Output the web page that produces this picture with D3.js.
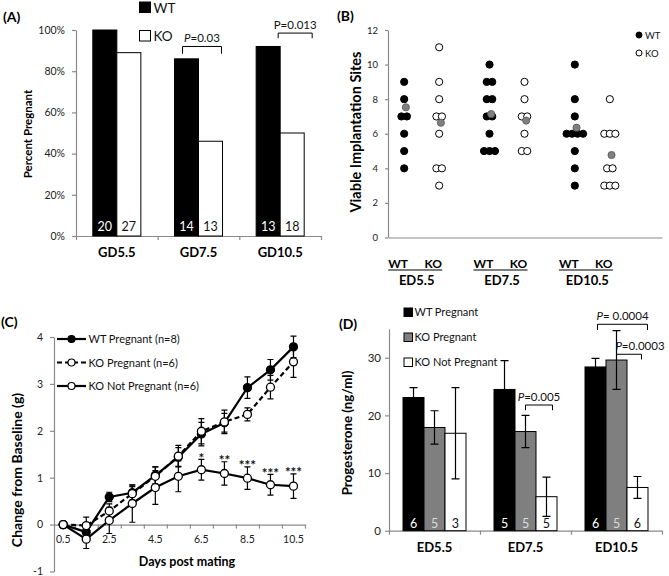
<!DOCTYPE html>
<html><head><meta charset="utf-8">
<script src="https://cdn.jsdelivr.net/npm/d3@7"></script>
<style>
body{margin:0;background:#fff}
svg{display:block}
text{font-family:Lato,'Open Sans',sans-serif}
</style>
</head><body>
<svg id="fig" width="669" height="576"></svg>
<script>
// ---------- Panel A data ----------
const aCats = ['GD5.5','GD7.5','GD10.5'];
const aWT = [1.00, 0.86, 0.92];
const aKO = [0.89, 0.46, 0.50];
const aNwt = [20, 14, 13];
const aNko = [27, 13, 18];
const aTicks = [0, 0.2, 0.4, 0.6, 0.8, 1.0];
const aPvals = [{cat:'GD7.5', label:'P=0.03', italic:true, level:0.92, drop:0.035},
                {cat:'GD10.5', label:'P=0.013', italic:false, level:0.985, drop:0.025}];

// ---------- Panel B data ----------
const bCats = ['ED5.5','ED7.5','ED10.5'];
const bWT = [[9,8,7,7,6,5,4],[10,9,9,8,8,7,7,6,5,5,5],[10,8,7,6,6,6,6,5,4,3]];
const bKO = [[11,9,8,7,7,6,4,4,3],[9,8,7,7,6,5,5],[8,6,6,6,4,4,3,3,3]];
const bMeanWT = [7.53, 7.14, 6.35];
const bMeanKO = [6.64, 6.76, 4.77];
const bTicks = [0,2,4,6,8,10,12];

// ---------- Panel C data ----------
const cDays = [0.5,1.5,2.5,3.5,4.5,5.5,6.5,7.5,8.5,9.5,10.5];
const cWT    = [0,-0.16,0.59,0.68,1.05,1.44,1.93,2.17,2.92,3.30,3.79];
const cWTerr = [0, 0.10,0.10,0.16,0.18,0.20,0.25,0.20,0.23,0.22,0.23];
const cKO    = [0,-0.02,0.29,0.66,1.03,1.46,1.99,2.19,2.35,2.93,3.47];
const cKOerr = [0, 0.18,0.15,0.15,0.20,0.23,0.27,0.25,0.14,0.25,0.33];
const cNP    = [0,-0.31,0.09,0.45,0.79,1.03,1.17,1.09,0.99,0.85,0.82];
const cNPerr = [0, 0.20,0.28,0.40,0.36,0.33,0.22,0.25,0.24,0.22,0.26];
const cStars = ['','','','','','','*','**','***','***','***'];
const cYTicks = [-1,0,1,2,3,4];
const cXLabels = [0.5,2.5,4.5,6.5,8.5,10.5];
const cXTicks = [1,2,3,4,5,6,7,8,9,10,11];
const cSeries = ['WT Pregnant (n=8)','KO Pregnant (n=6)','KO Not Pregnant (n=6)'];

// ---------- Panel D data ----------
const dCats = ['ED5.5','ED7.5','ED10.5'];
const dWT = [23.1, 24.5, 28.4];
const dWTerr = [1.7, 5.0, 1.5];
const dKO = [17.9, 17.2, 29.6];
const dKOerr = [2.9, 2.8, 5.1];
const dNP = [16.9, 5.9, 7.5];
const dNPerr = [7.9, 3.4, 1.9];
const dNwt = [6,5,6], dNko = [5,5,5], dNnp = [3,5,6];
const dTicks = [0,10,20,30];
const dSeries = ['WT Pregnant','KO Pregnant','KO Not Pregnant'];
const dPvals = [
  {cat:'ED7.5', from:'ko', to:'np', label:'=0.005', level:21.8, drop:0.9},
  {cat:'ED10.5', from:'wt', to:'np', label:'= 0.0004', level:35.8, drop:1.0},
  {cat:'ED10.5', from:'ko', to:'np', label:'=0.0003', level:30.6, drop:0.9}
];

const svg = d3.select('#fig');
svg.append('rect').attr('width',669).attr('height',576).attr('fill','#fff');
const AX = '#8a8a8a', TXT = '#222';

function styleAxis(g, fs){
  g.select('.domain').attr('stroke', AX).attr('stroke-width',1.2);
  g.selectAll('.tick line').attr('stroke', AX).attr('stroke-width',1.2);
  g.selectAll('.tick text').attr('font-family','Lato, sans-serif').attr('font-size', fs).attr('fill', TXT);
}
function panelLabel(t, x, y){
  svg.append('text').attr('x',x).attr('y',y).attr('font-size',14).attr('font-weight','bold').attr('fill','#000').text(t);
}
function yTitle(t, cx, cy, fs){
  svg.append('text').attr('transform',`translate(${cx},${cy}) rotate(-90)`).attr('text-anchor','middle')
    .attr('dy','0.35em').attr('font-size',fs).attr('font-weight','bold').attr('fill','#000').text(t);
}

// =================== Panel A ===================
(function(){
  const y = d3.scaleLinear().domain([0,1]).range([236,30]);
  const x0 = d3.scaleBand().domain(aCats).range([76,321]);
  const x1 = d3.scaleBand().domain(['WT','KO']).range([0,x0.bandwidth()]).paddingInner(0).paddingOuter(0.7);
  const xb = d3.scaleLinear().domain([0,aCats.length]).range(x0.range());

  svg.append('g').attr('transform','translate(0,236)')
    .call(d3.axisBottom(xb).tickValues(d3.range(aCats.length+1)).tickFormat('').tickSize(4).tickSizeOuter(0))
    .call(g=>styleAxis(g,11));
  svg.append('g').attr('transform','translate(76,0)')
    .call(d3.axisLeft(y).tickValues(aTicks).tickFormat(d3.format('.0%')).tickSize(4).tickSizeOuter(0).tickPadding(7))
    .call(g=>styleAxis(g,10.5));

  const groups = svg.append('g').selectAll('g').data(aCats).join('g')
    .attr('transform', d=>`translate(${x0(d)},0)`);
  groups.each(function(c,i){
    const g = d3.select(this);
    const vals = [{k:'WT',v:aWT[i],n:aNwt[i]},{k:'KO',v:aKO[i],n:aNko[i]}];
    g.selectAll('rect').data(vals).join('rect')
      .attr('x',d=>x1(d.k)).attr('width',x1.bandwidth())
      .attr('y',d=>y(d.v)).attr('height',d=>y(0)-y(d.v))
      .attr('fill',d=>d.k==='WT'?'#000':'#fff').attr('stroke','#000').attr('stroke-width',1);
    g.selectAll('text.n').data(vals).join('text').attr('class','n')
      .attr('x',d=>x1(d.k)+x1.bandwidth()/2).attr('y',y(0)-5)
      .attr('text-anchor','middle').attr('font-size',12.5)
      .attr('fill',d=>d.k==='WT'?'#fff':'#111').text(d=>d.n);
  });
  svg.append('g').selectAll('text').data(aCats).join('text')
    .attr('x',d=>x0(d)+x0.bandwidth()/2).attr('y',257).attr('text-anchor','middle')
    .attr('font-size',13).attr('font-weight','bold').attr('fill','#000').text(d=>d);

  aPvals.forEach(p=>{
    const l = x0(p.cat)+x1('WT')+x1.bandwidth()/2 - (p.italic?4:-10);
    const r = x0(p.cat)+x1('KO')+x1.bandwidth() + (p.italic?-1:8);
    svg.append('path').attr('d',`M${l},${y(p.level-p.drop)}V${y(p.level)}H${r}V${y(p.level-p.drop)}`)
      .attr('fill','none').attr('stroke','#000').attr('stroke-width',1);
    const t = svg.append('text').attr('x',(l+r)/2).attr('y',y(p.level)-4).attr('text-anchor','middle')
      .attr('font-size',11.5).attr('fill','#111');
    if(p.italic){ t.append('tspan').attr('font-style','italic').text('P'); t.append('tspan').text(p.label.slice(1)); }
    else t.text(p.label);
  });

  const leg = [{k:'WT',fill:'#000'},{k:'KO',fill:'#fff'}];
  leg.forEach((d,i)=>{
    svg.append('rect').attr('x',139.5).attr('y',2+i*28.5).attr('width',11).attr('height',10.5)
      .attr('fill',d.fill).attr('stroke','#000').attr('stroke-width',1);
    svg.append('text').attr('x',153.5).attr('y',12.5+i*28.5).attr('font-size',13.5).attr('fill','#111').text(d.k);
  });

  panelLabel('(A)', 3, 22);
  yTitle('Percent Pregnant', 28, 134, 11.5);
})();

// =================== Panel B ===================
(function(){
  const y = d3.scaleLinear().domain([0,12]).range([237.5,30]);
  const x0 = d3.scaleBand().domain(bCats).range([379,635]);
  const x1 = d3.scalePoint().domain(['WT','KO']).range([x0.bandwidth()/2-17.5, x0.bandwidth()/2+17.5]);
  const xa = d3.scaleLinear().domain([0,1]).range([388,662]);

  svg.append('g').attr('transform',`translate(0,${y(0)})`)
    .call(d3.axisBottom(xa).tickValues([]).tickSizeOuter(0)).call(g=>styleAxis(g,9));
  svg.append('g').attr('transform','translate(388,0)')
    .call(d3.axisLeft(y).tickValues(bTicks).tickSize(3).tickSizeOuter(0).tickPadding(7))
    .call(g=>styleAxis(g,9.5));

  const spacing = 5.5, r = 3.6;
  function spread(vals){
    const counts = d3.rollup(vals, v=>v.length, d=>d);
    const seen = new Map();
    return vals.map(v=>{
      const n = counts.get(v); const i = seen.get(v)||0; seen.set(v,i+1);
      return {v, off:(i-(n-1)/2)*spacing};
    });
  }
  const g = svg.append('g');
  bCats.forEach((c,i)=>{
    [['WT',bWT[i],'#000',bMeanWT[i]],['KO',bKO[i],'#fff',bMeanKO[i]]].forEach(([k,vals,fill,mean])=>{
      const cx = x0(c)+x1(k);
      g.append('g').selectAll('circle').data(spread(vals)).join('circle')
        .attr('cx',d=>cx+d.off).attr('cy',d=>y(d.v)).attr('r',r)
        .attr('fill',fill).attr('stroke','#000').attr('stroke-width',1);
      g.append('circle').attr('cx',cx+1.7).attr('cy',y(mean)).attr('r',r)
        .attr('fill','#808080').attr('stroke','#555').attr('stroke-width',0.8);
    });
    const gc = x0(c)+x0.bandwidth()/2;
    const wl = svg.append('text').attr('x',x0(c)+x1('WT')-6).attr('y',268).attr('text-anchor','middle')
      .attr('font-size',12).attr('font-weight','bold').attr('fill','#000').text('WT');
    const kl = svg.append('text').attr('x',x0(c)+x1('KO')-6).attr('y',268).attr('text-anchor','middle')
      .attr('font-size',12).attr('font-weight','bold').attr('fill','#000').text('KO');
    const b1 = wl.node().getBBox(), b2 = kl.node().getBBox();
    svg.append('line').attr('x1',b1.x).attr('x2',b2.x+b2.width).attr('y1',270).attr('y2',270)
      .attr('stroke','#000').attr('stroke-width',1.2);
    svg.append('text').attr('x',gc-5).attr('y',284.5).attr('text-anchor','middle')
      .attr('font-size',13).attr('font-weight','bold').attr('fill','#000').text(c);
  });

  [['WT','#000'],['KO','#fff']].forEach(([k,fill],i)=>{
    svg.append('circle').attr('cx',639).attr('cy',35+i*18).attr('r',3).attr('fill',fill).attr('stroke','#000').attr('stroke-width',1);
    svg.append('text').attr('x',645).attr('y',38.5+i*18).attr('font-size',9.5).attr('fill','#111').text(k);
  });

  panelLabel('(B)', 337, 21);
  yTitle('Viable Implantation Sites', 356, 132, 14.5);
})();

// =================== Panel C ===================
(function(){
  const x = d3.scaleLinear().domain([0.1,11]).range([54,305]);
  const y = d3.scaleLinear().domain([-1,4]).range([571.5,337]);

  svg.append('g').attr('transform',`translate(0,${y(0)})`)
    .call(d3.axisBottom(x).tickValues(cXTicks).tickFormat('').tickSize(4).tickSizeOuter(0))
    .call(g=>styleAxis(g,10.5));
  svg.append('g').attr('transform','translate(54,0)')
    .call(d3.axisLeft(y).tickValues(cYTicks).tickFormat(d=>String(d)).tickSize(4).tickSizeOuter(0).tickPadding(7))
    .call(g=>styleAxis(g,10.5));
  svg.append('g').selectAll('text').data(cXLabels).join('text')
    .attr('x',d=>x(d)).attr('y',543).attr('text-anchor','middle').attr('font-size',10.5).attr('fill',TXT)
    .text(d=>d);

  const series = [
    {name:cSeries[0], m:cWT, e:cWTerr, fill:'#000', dash:null},
    {name:cSeries[1], m:cKO, e:cKOerr, fill:'#fff', dash:'5,3'},
    {name:cSeries[2], m:cNP, e:cNPerr, fill:'#fff', dash:null}
  ];
  const line = d3.line().x(d=>x(d[0])).y(d=>y(d[1]));
  const eg = svg.append('g'), lg = svg.append('g'), mg = svg.append('g');
  series.forEach(s=>{
    const pts = cDays.map((d,i)=>[d,s.m[i],s.e[i]]);
    pts.forEach(p=>{
      if(p[2]<=0) return;
      eg.append('path').attr('d',`M${x(p[0])},${y(p[1]-p[2])}V${y(p[1]+p[2])}M${x(p[0])-3},${y(p[1]+p[2])}h6M${x(p[0])-3},${y(p[1]-p[2])}h6`)
        .attr('stroke','#000').attr('stroke-width',1.2).attr('fill','none');
    });
    lg.append('path').attr('d',line(pts)).attr('fill','none').attr('stroke','#000')
      .attr('stroke-width',2.2).attr('stroke-dasharray',s.dash);
    mg.append('g').selectAll('circle').data(pts).join('circle')
      .attr('cx',d=>x(d[0])).attr('cy',d=>y(d[1])).attr('r',4)
      .attr('fill',s.fill).attr('stroke','#000').attr('stroke-width',1.3);
  });
  svg.append('g').selectAll('text').data(cDays.map((d,i)=>({d,s:cStars[i],top:cNP[i]+cNPerr[i]})).filter(o=>o.s))
    .join('text').attr('x',o=>x(o.d)).attr('y',o=>y(o.top)+3.5).attr('text-anchor','middle')
    .attr('font-family','DejaVu Sans, sans-serif').attr('font-size',13.5).attr('font-weight','bold').attr('fill','#111').text(o=>o.s);

  series.forEach((s,i)=>{
    const ly = 339 + i*23.5;
    svg.append('line').attr('x1',57).attr('x2',86).attr('y1',ly).attr('y2',ly).attr('stroke','#000')
      .attr('stroke-width',2.2).attr('stroke-dasharray',s.dash);
    svg.append('circle').attr('cx',71.5).attr('cy',ly).attr('r',3.5).attr('fill',s.fill).attr('stroke','#000').attr('stroke-width',1.2);
    svg.append('text').attr('x',88.5).attr('y',ly+4).attr('font-size',11).attr('fill','#111').text(s.name);
  });
  svg.append('text').attr('x',187).attr('y',566).attr('text-anchor','middle').attr('font-size',12.5)
    .attr('font-weight','bold').attr('fill','#000').text('Days post mating');

  panelLabel('(C)', 1, 327);
  yTitle('Change from Baseline (g)', 17, 470, 14);
})();

// =================== Panel D ===================
(function(){
  const y = d3.scaleLinear().domain([0,35]).range([530.7,328.9]);
  const x0 = d3.scaleBand().domain(dCats).range([389,662]);
  const keys = ['wt','ko','np'];
  const x1 = d3.scaleBand().domain(keys).range([0,x0.bandwidth()]).paddingInner(0).paddingOuter(0.667);
  const xb = d3.scaleLinear().domain([0,dCats.length]).range(x0.range());
  const fills = {wt:'#000', ko:'#7f7f7f', np:'#fff'};
  const nFill = {wt:'#fff', ko:'#dcdcdc', np:'#111'};

  svg.append('g').attr('transform',`translate(0,${y(0)})`)
    .call(d3.axisBottom(xb).tickValues(d3.range(dCats.length+1)).tickFormat('').tickSize(4).tickSizeOuter(0))
    .call(g=>styleAxis(g,11));
  svg.append('g').attr('transform','translate(389,0)')
    .call(d3.axisLeft(y).tickValues(dTicks).tickSize(4).tickSizeOuter(0).tickPadding(4))
    .call(g=>styleAxis(g,11.5));

  const g = svg.append('g');
  dCats.forEach((c,i)=>{
    const vals = [{k:'wt',v:dWT[i],e:dWTerr[i],n:dNwt[i]},{k:'ko',v:dKO[i],e:dKOerr[i],n:dNko[i]},{k:'np',v:dNP[i],e:dNPerr[i],n:dNnp[i]}];
    vals.forEach(d=>{
      const bx = x0(c)+x1(d.k), w = x1.bandwidth(), cx = bx+w/2;
      g.append('rect').attr('x',bx).attr('width',w).attr('y',y(d.v)).attr('height',y(0)-y(d.v))
        .attr('fill',fills[d.k]).attr('stroke','#000').attr('stroke-width',1);
      g.append('path').attr('d',`M${cx},${y(d.v-d.e)}V${y(d.v+d.e)}M${cx-4},${y(d.v+d.e)}h8M${cx-4},${y(d.v-d.e)}h8`)
        .attr('stroke','#000').attr('stroke-width',1.2).attr('fill','none');
      g.append('text').attr('x',cx).attr('y',y(0)-2.5).attr('text-anchor','middle').attr('font-size',12.5)
        .attr('fill',nFill[d.k]).text(d.n);
    });
  });
  svg.append('g').selectAll('text').data(dCats).join('text')
    .attr('x',d=>x0(d)+x0.bandwidth()/2).attr('y',551.5).attr('text-anchor','middle')
    .attr('font-size',13).attr('font-weight','bold').attr('fill','#000').text(d=>d);

  dPvals.forEach(p=>{
    const l = x0(p.cat)+x1(p.from)+x1.bandwidth()/2 + (p.from==='wt'?2:0);
    const r = x0(p.cat)+x1(p.to)+x1.bandwidth()/2 + (p.from==='wt'?6:2) + (p.label==='=0.0003'?2:4);
    svg.append('path').attr('d',`M${l},${y(p.level-p.drop)}V${y(p.level)}H${r}V${y(p.level-p.drop)}`)
      .attr('fill','none').attr('stroke','#000').attr('stroke-width',1);
    const t = svg.append('text').attr('x',(l+r)/2 + (p.label==='=0.0003'?11:0)).attr('y',y(p.level)-4.5)
      .attr('text-anchor','middle').attr('font-size',11.5).attr('fill','#111');
    t.append('tspan').attr('font-style','italic').text('P');
    t.append('tspan').text(p.label);
  });

  dSeries.forEach((s,i)=>{
    const ly = 308 + i*25;
    svg.append('rect').attr('x',404).attr('y',ly).attr('width',8.5).attr('height',8.5)
      .attr('fill',fills[keys[i]]).attr('stroke','#000').attr('stroke-width',1);
    svg.append('text').attr('x',414.5).attr('y',ly+8).attr('font-size',11).attr('fill','#111').text(s);
  });

  panelLabel('(D)', 339, 329);
  yTitle('Progesterone (ng/ml)', 347, 433, 13.3);
})();
</script>
</body></html>
